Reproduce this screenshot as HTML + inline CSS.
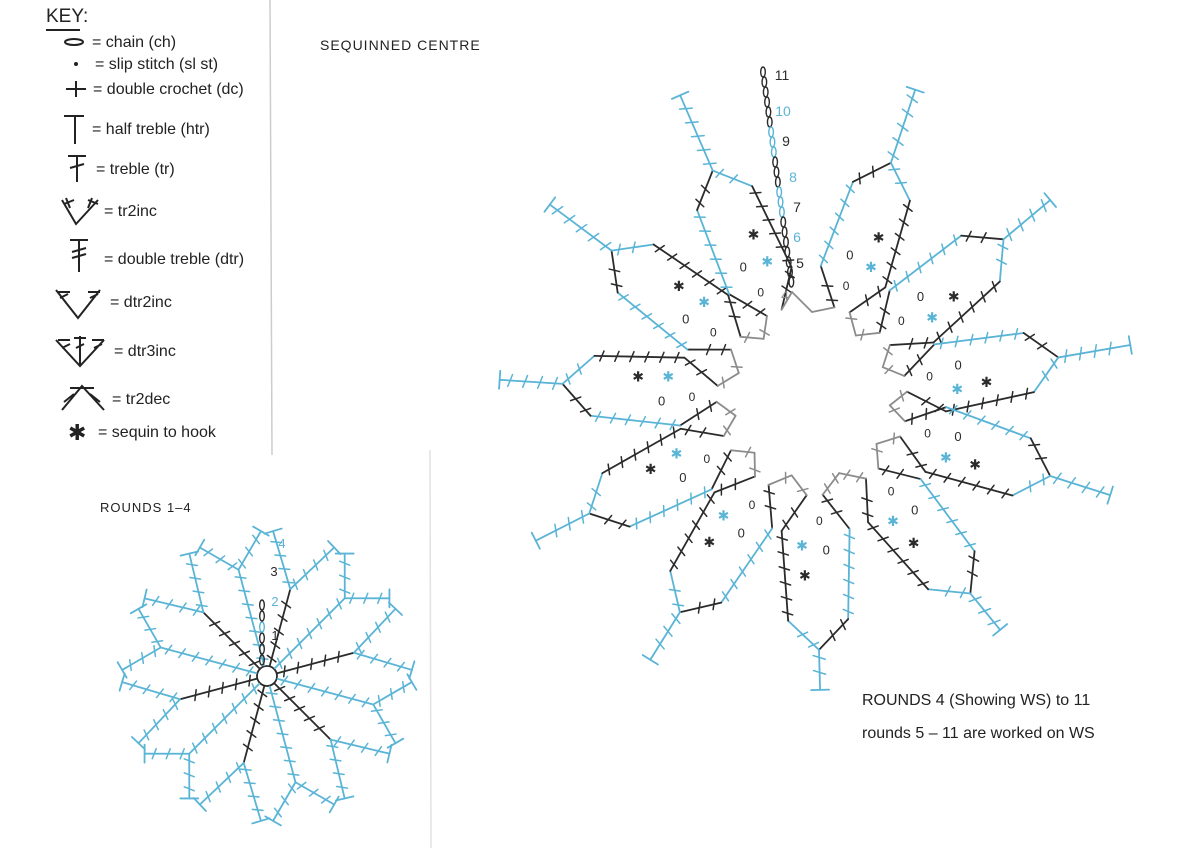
<!DOCTYPE html>
<html><head><meta charset="utf-8"><style>
html,body{margin:0;padding:0;background:#fff;}
svg{display:block;}
.h{font-family:"Liberation Sans",sans-serif;fill:#222;}
</style></head><body>
<svg id="s" width="1200" height="848" viewBox="0 0 1200 848" xmlns="http://www.w3.org/2000/svg">
<rect width="1200" height="848" fill="#fff"/>
<line x1="270" y1="0" x2="272" y2="455" stroke="#ccc" stroke-width="1.5"/>
<line x1="430" y1="450" x2="431" y2="848" stroke="#e2e2e2" stroke-width="1.5"/>
<g class="h" font-size="16">
<text x="46" y="22" font-size="19">KEY:</text>
<line x1="46" y1="30" x2="80" y2="30" stroke="#222" stroke-width="2"/>
<ellipse cx="74" cy="42" rx="9" ry="3" fill="none" stroke="#222" stroke-width="2"/>
<text x="92" y="47">= chain (ch)</text>
<circle cx="76" cy="64" r="2" fill="#222"/>
<text x="95" y="69">= slip stitch (sl st)</text>
<path d="M66 89h20M76 81v16" stroke="#222" stroke-width="2"/>
<text x="93" y="94">= double crochet (dc)</text>
<path d="M64 116h20M75 116v28" stroke="#222" stroke-width="2"/>
<text x="92" y="134">= half treble (htr)</text>
<path d="M68 156h18M77 156v26M70 168l14-4" stroke="#222" stroke-width="2"/>
<text x="96" y="174">= treble (tr)</text>
<path d="M62 200l14 24 22-24M64 204l10-4M88 200l10 4M66 198l4 10M92 198l-4 10" stroke="#222" stroke-width="2" fill="none"/>
<text x="104" y="216">= tr2inc</text>
<path d="M70 240h18M79 240v32M72 252l14-4M72 258l14-4" stroke="#222" stroke-width="2"/>
<text x="104" y="264">= double treble (dtr)</text>
<path d="M56 290l22 28 22-28M58 292h12M88 292h12M60 298l8-4M90 298l8-4" stroke="#222" stroke-width="2" fill="none"/>
<text x="110" y="307">= dtr2inc</text>
<path d="M56 340l24 26 24-26M80 336v30M58 340h12M74 338h12M92 340h12M62 348l8-4M76 348l8-4M94 348l8-4" stroke="#222" stroke-width="2" fill="none"/>
<text x="114" y="356">= dtr3inc</text>
<path d="M62 410l20-24 22 24M70 388h24M64 402l10-8M90 394l10 8" stroke="#222" stroke-width="2" fill="none"/>
<text x="112" y="404">= tr2dec</text>
<text x="68" y="440" font-size="22">✱</text>
<text x="98" y="437">= sequin to hook</text>
</g>
<text class="h" x="320" y="50" font-size="14" letter-spacing="1">SEQUINNED CENTRE</text>
<text class="h" x="100" y="512" font-size="13" letter-spacing="1">ROUNDS 1–4</text>
<text class="h" x="862" y="705" font-size="16">ROUNDS 4 (Showing WS) to 11</text>
<text class="h" x="862" y="738" font-size="16">rounds 5 – 11 are worked on WS</text>
<g id="g"></g>
</svg>
<script>
var g=document.getElementById('g'),NS='http://www.w3.org/2000/svg';
var B='#5ab4d6',D='#2b2b2b',G='#8c8c8c';
function L(x1,y1,x2,y2,c,w){var e=document.createElementNS(NS,'line');e.setAttribute('x1',x1);e.setAttribute('y1',y1);e.setAttribute('x2',x2);e.setAttribute('y2',y2);e.setAttribute('stroke',c);e.setAttribute('stroke-width',w||1.8);e.setAttribute('stroke-linecap','round');g.appendChild(e);}
function T(x,y,s,c,fs){var e=document.createElementNS(NS,'text');e.setAttribute('x',x);e.setAttribute('y',y);e.setAttribute('fill',c);e.setAttribute('font-size',fs||13);e.setAttribute('font-family','Liberation Sans, sans-serif');e.setAttribute('text-anchor','middle');e.textContent=s;g.appendChild(e);}
function tl(x1,y1,x2,y2,c,step,tk,bar){L(x1,y1,x2,y2,c);var dx=x2-x1,dy=y2-y1,len=Math.hypot(dx,dy),ux=dx/len,uy=dy/len,px=-uy,py=ux;var n=Math.floor(len/step);for(var i=1;i<=n;i++){var t=i*step-step/2;var cx=x1+ux*t,cy=y1+uy*t;L(cx-px*tk+ux*2,cy-py*tk+uy*2,cx+px*tk-ux*2,cy+py*tk-uy*2,c,1.5);}if(bar){L(x2-px*9,y2-py*9,x2+px*9,y2+py*9,c);}}
// large diagram
var cx=812,cy=400;
var petals=[[-71.6,327],[-40,311],[-9.8,323],[17.7,313],[50.7,297],[88.4,290],[121.9,306],[153,310],[183.7,313],[216.7,327],[246.6,332]];
function P(a,u,v){var r=a*Math.PI/180;return [cx+Math.cos(r)*u-Math.sin(r)*v,cy+Math.sin(r)*u+Math.cos(r)*v];}
var inner=[];
petals.forEach(function(p,i){var a=p[0];var pts=[[95,-8],[130,-34],[220,-30],[250,0],[220,30],[130,34],[95,8]].map(function(q){return P(a,q[0],q[1]);});
 for(var k=0;k<6;k++){var c=(k<3)?B:D;if(k==0||k==5)c=D;if(k==2)c=D;if(k==3)c=B;tl(pts[k][0],pts[k][1],pts[k+1][0],pts[k+1][1],c,15,5);}
 var s=P(a,250,0),e=P(a,p[1],0);tl(s[0],s[1],e[0],e[1],B,15,6,true);
 var q=P(a,150,-10);T(q[0],q[1]+5,'0',D,13);q=P(a,175,12);T(q[0],q[1]+5,'✱',D,14);q=P(a,145,14);T(q[0],q[1]+5,'✱',B,14);q=P(a,120,-4);T(q[0],q[1]+5,'0',D,12);
 inner.push([P(a,95,-8),P(a,95,8)]);});
for(var i=0;i<inner.length-1;i++){var a1=petals[i][0],a2=petals[i+1][0],m=(a1+a2)/2;var mp=P(m,78,0);tl(inner[i][1][0],inner[i][1][1],mp[0],mp[1],G,13,5);tl(mp[0],mp[1],inner[i+1][0][0],inner[i+1][0][1],G,13,5);}
var lp=inner[inner.length-1][1],fp=inner[0][0];
L(lp[0],lp[1],792,292,G);L(792,292,812,312,G);L(812,312,fp[0],fp[1],G);
// top chain
for(var k=0;k<22;k++){var y=72+k*10,x=763+k*1.35;var e=document.createElementNS(NS,'ellipse');e.setAttribute('cx',x);e.setAttribute('cy',y);e.setAttribute('rx',2.3);e.setAttribute('ry',5);e.setAttribute('fill','none');e.setAttribute('stroke',(k>=4&&k<18&&(k%6<3))?B:D);e.setAttribute('stroke-width',1.4);g.appendChild(e);}
[['11',782,80,D],['10',783,116,B],['9',786,146,D],['8',793,182,B],['7',797,212,D],['6',797,242,B],['5',800,268,D],['4',785,300,G]].forEach(function(t){T(t[1],t[2],t[0],t[3],14);});
// small diagram
var sx=267,sy=676;
var c0=document.createElementNS(NS,'circle');c0.setAttribute('cx',sx);c0.setAttribute('cy',sy);c0.setAttribute('r',10);c0.setAttribute('fill','#fff');c0.setAttribute('stroke',D);c0.setAttribute('stroke-width',1.8);g.appendChild(c0);
for(var k=0;k<12;k++){var a=(k*30-75)*Math.PI/180;var ux=Math.cos(a),uy=Math.sin(a);
 var r1=k%2?110:90;var c1=k%2?B:D;
 tl(sx+ux*11,sy+uy*11,sx+ux*r1,sy+uy*r1,c1,14,5);
 var bx=sx+ux*r1,by=sy+uy*r1;
 for(var j=-1;j<=1;j+=2){var b=a+j*0.22;var ex=sx+Math.cos(b)*145,ey=sy+Math.sin(b)*145;tl(bx,by,ex,ey,B,14,5,true);}
}
for(var k=0;k<6;k++){var e=document.createElementNS(NS,'ellipse');e.setAttribute('cx',262);e.setAttribute('cy',660-k*11);e.setAttribute('rx',2.3);e.setAttribute('ry',5);e.setAttribute('fill','none');e.setAttribute('stroke',k==3?B:D);e.setAttribute('stroke-width',1.4);g.appendChild(e);}
T(275,640,'1',D,13);T(275,606,'2',B,13);T(274,576,'3',D,13);T(282,548,'4',B,13);
</script>
</body></html>
